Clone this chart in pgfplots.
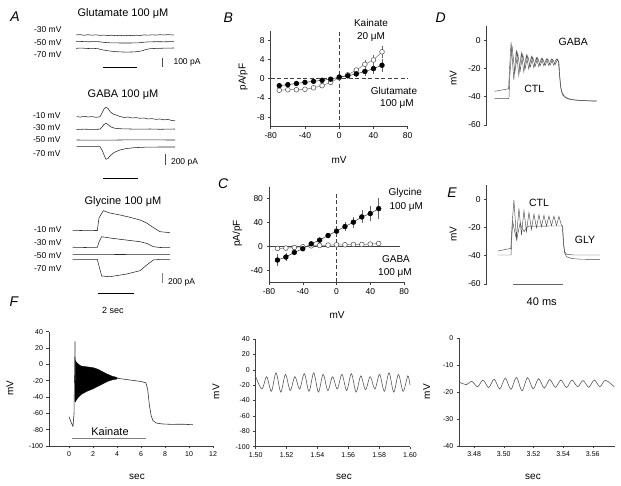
\documentclass[border=0pt]{standalone}
\usepackage{fontspec}
\setmainfont{Liberation Sans}
\usepackage{pgfplots}
\pgfplotsset{compat=1.18}
\newcommand{\fs}[1]{\fontsize{#1}{#1}\selectfont}
\pgfplotsset{
  panel/.style={scale only axis, axis lines=left, axis line style={-,black!75,line width=0.6pt},
    tick align=outside, major tick length=2.5pt, tick style={black!75,line width=0.5pt},
    tick label style={font=\fs{8.5}}, /pgf/number format/assume math mode=true, clip=false},
  trace/.style={black!85, line width=0.55pt},
  gtrace/.style={black!65, line width=0.6pt},
  dtrace/.style={black!70, line width=0.45pt},
}
\begin{document}
\begin{tikzpicture}
\path[use as bounding box] (0pt,0pt) rectangle (621pt,486pt);

% ---------------- A : current traces (pixel units) ----------------
\begin{axis}[at={(0pt,486pt)}, anchor=north west, scale only axis, width=210pt, height=310pt,
  xmin=0, xmax=210, ymin=0, ymax=310, y dir=reverse, hide axis, clip=false]
% glutamate
\addplot[trace] coordinates {(76,35)(80,34.6)(84,35.3)(88,34.7)(92,35.2)(96,34.8)(100,35.4)(104,35.1)(108,35.6)(112,35.2)(116,35.7)(120,35.3)(124,35.8)(128,35.4)(132,35.6)(136,35.2)(140,35.5)(144,34.9)(148,35.2)(152,34.8)(156,35.1)(160,34.7)(164,35)(168,34.6)(172,35)(174,34.8)};
\addplot[trace] coordinates {(76,41.7)(82,41.5)(88,41.8)(94,41.6)(100,41.8)(104,42.4)(110,42.8)(120,43)(130,43)(138,42.9)(143,42.3)(148,41.9)(156,41.7)(164,41.8)(174,41.6)};
\addplot[trace] coordinates {(76,48.3)(82,48.1)(88,48.5)(94,48.4)(98,48.7)(102,49.8)(108,50.8)(114,51.5)(120,51.9)(126,52.1)(132,52)(138,51.6)(142,50.8)(146,49.5)(150,48.7)(156,48.4)(164,48.2)(174,48)};
\addplot[black, line width=1pt] coordinates {(103.3,67.7)(137.3,67.7)};
\addplot[black!70, line width=0.6pt] coordinates {(162.7,58.3)(162.7,66.7)};
% GABA
\addplot[trace] coordinates {(76.7,116.5)(80,117.2)(84,116.3)(88,117)(92,116.6)(96,117.3)(100,116.8)(102,113)(104,109)(106,107.3)(108,108.5)(110,111.5)(113,114)(116,115)(120,116.5)(124,117.5)(128,117)(132,118)(136,117.6)(140,118.3)(144,118)(148,119)(152,118.6)(156,119.4)(160,119)(164,119.8)(168,119.5)(172,120.5)(175,120.7)};
\addplot[trace] coordinates {(76.7,129.5)(84,129.2)(92,129.4)(100,129.2)(102,127)(104,124.5)(106,123.3)(108,124.5)(111,127)(115,128.3)(122,128.8)(130,129)(140,129.2)(150,129)(160,129.3)(175,129)};
\addplot[trace] coordinates {(76.7,140)(100,140.2)(130,139.9)(175,140)};
\addplot[trace] coordinates {(76.7,146.7)(100,146.7)(102,150)(104,155)(106,159.3)(108,158.5)(110,156)(114,152.5)(120,150)(126,148.6)(134,147.7)(145,147.2)(160,147)(175,147)};
\addplot[black, line width=1pt] coordinates {(103.3,179)(138.3,179)};
\addplot[black!70, line width=0.6pt] coordinates {(165.7,154.3)(165.7,165)};
% glycine
\addplot[trace] coordinates {(72.7,230.7)(85,230.4)(97.3,230.5)(99,218)(103.3,210.7)(110,213)(120,215)(130,217.3)(140,220)(146.7,223)(152,226.7)(160,231.7)(170,232.7)};
\addplot[trace] coordinates {(72.7,247.3)(85,247.5)(97.3,247.3)(99,242)(101.7,236.7)(110,238)(120,239.3)(140,241.7)(147,243.5)(153.3,246.7)(160,247.5)(170,247.7)};
\addplot[trace] coordinates {(72.7,254.3)(120,254.5)(170,254.3)};
\addplot[trace] coordinates {(72.7,259.3)(97.3,259.3)(99,266)(101.7,276)(110,276.7)(126.7,274)(140,270.7)(146.7,265)(153.3,260)(160,259.4)(170,259.3)};
\addplot[black!50, line width=0.6pt] coordinates {(162.7,273.3)(162.7,283.3)};
\addplot[black, line width=1pt] coordinates {(98.3,294)(134,294)};
\end{axis}

\node[font=\fs{14}\itshape] at (15pt,469.3pt) {A};
\node[font=\fs{11}] at (123pt,472.7pt) {Glutamate 100 μM};
\node[font=\fs{8.5}, anchor=east] at (65pt,456pt) {-30 mV};
\node[font=\fs{8.5}, anchor=east] at (65pt,443.3pt) {-50 mV};
\node[font=\fs{8.5}, anchor=east] at (65pt,431pt) {-70 mV};
\node[font=\fs{8.5}, anchor=west] at (170pt,423.3pt) {100 pA};
\node[font=\fs{11}] at (123pt,391pt) {GABA 100 μM};
\node[font=\fs{8.5}, anchor=east] at (64pt,370pt) {-10 mV};
\node[font=\fs{8.5}, anchor=east] at (64pt,358.3pt) {-30 mV};
\node[font=\fs{8.5}, anchor=east] at (64pt,346pt) {-50 mV};
\node[font=\fs{8.5}, anchor=east] at (64pt,332pt) {-70 mV};
\node[font=\fs{8.5}, anchor=west] at (167.5pt,323.3pt) {200 pA};
\node[font=\fs{11}] at (123pt,284.3pt) {Glycine 100 μM};
\node[font=\fs{8.5}, anchor=east] at (65pt,256pt) {-10 mV};
\node[font=\fs{8.5}, anchor=east] at (65pt,243.3pt) {-30 mV};
\node[font=\fs{8.5}, anchor=east] at (65pt,230pt) {-50 mV};
\node[font=\fs{8.5}, anchor=east] at (65pt,217.7pt) {-70 mV};
\node[font=\fs{8.5}, anchor=west] at (164.5pt,203.3pt) {200 pA};
\node[font=\fs{9}] at (113pt,176pt) {2 sec};

% ---------------- B ----------------
\begin{axis}[panel, at={(270.7pt,359.3pt)}, anchor=south west, width=137pt, height=96pt,
  xmin=-80, xmax=80, ymin=-10, ymax=10, xtick={-80,-40,0,40,80}, ytick={-8,-4,0,4,8}]
\addplot[black!75, dash pattern=on 4pt off 2.5pt, line width=0.6pt] coordinates {(-80,0)(80,0)};
\addplot[black!75, dash pattern=on 4pt off 2.5pt, line width=0.6pt] coordinates {(0,-10)(0,10)};
\addplot[black!55, line width=0.5pt, mark=*, mark size=2.4pt, mark options={fill=white, draw=black!70, line width=0.5pt},
  error bars/.cd, y dir=both, y explicit, error mark=none, error bar style={black!60,line width=0.5pt}]
  coordinates {(-70,-2.4)+-(0,0.4)(-60,-2.3)+-(0,0.4)(-50,-2.3)+-(0,0.4)(-40,-2.2)+-(0,0.4)(-30,-1.9)+-(0,0.4)(-20,-1.45)+-(0,0.4)(-10,-0.76)+-(0,0.3)(0,0.2)+-(0,0.3)(10,0.8)+-(0,0.3)(20,1.8)+-(0,0.5)(30,3.0)+-(0,0.8)(40,3.9)+-(0,1.1)(50,5.6)+-(0,1.3)};
\addplot[black!80, line width=0.5pt, mark=*, mark size=2.4pt, mark options={fill=black, draw=black},
  error bars/.cd, y dir=both, y explicit, error mark=none, error bar style={black!60,line width=0.5pt}]
  coordinates {(-70,-1.45)+-(0,0.6)(-60,-1.24)+-(0,0.5)(-50,-1.0)+-(0,0.4)(-40,-0.76)+-(0,0.4)(-30,-0.55)+-(0,0.4)(-20,-0.34)+-(0,0.3)(-10,-0.1)+-(0,0.3)(0,0.35)+-(0,0.3)(10,0.6)+-(0,0.3)(20,1.0)+-(0,0.6)(30,1.5)+-(0,0.9)(40,2.1)+-(0,1.1)(50,2.8)+-(0,1.4)};
\end{axis}
\node[font=\fs{14}\itshape] at (228.3pt,468.7pt) {B};
\node[font=\fs{10}] at (371pt,462.7pt) {Kainate};
\node[font=\fs{10}] at (371pt,449.3pt) {20 μM};
\node[font=\fs{10}] at (394pt,395pt) {Glutamate};
\node[font=\fs{10}] at (397pt,381.7pt) {100 μM};
\node[font=\fs{10}] at (339pt,326pt) {mV};
\node[font=\fs{10}, rotate=90] at (243pt,409pt) {pA/pF};

% ---------------- C ----------------
\begin{axis}[panel, at={(269pt,203.7pt)}, anchor=south west, width=135pt, height=95.6pt,
  xmin=-80, xmax=80, ymin=-60, ymax=100, xtick={-80,-40,0,40,80}, ytick={-40,0,40,80}]
\addplot[black!75, line width=0.6pt] coordinates {(-80,0)(75,0)};
\addplot[black!75, dash pattern=on 4pt off 2.5pt, line width=0.6pt] coordinates {(0,-60)(0,92)};
\addplot[black!55, line width=0.5pt, mark=*, mark size=2.4pt, mark options={fill=white, draw=black!70, line width=0.5pt},
  error bars/.cd, y dir=both, y explicit, error mark=none, error bar style={black!60,line width=0.5pt}]
  coordinates {(-70,-3.3)+-(0,1)(-60,-2.8)+-(0,1)(-50,-1.7)+-(0,1)(-40,-0.5)+-(0,1)(-30,1)+-(0,1)(-20,1.7)+-(0,1)(-10,2.2)+-(0,1)(0,2.8)+-(0,1)(10,2.8)+-(0,1)(20,3.3)+-(0,1)(30,3.3)+-(0,1)(40,3.9)+-(0,1.2)(50,5)+-(0,1.5)};
\addplot[black!80, line width=0.5pt, mark=*, mark size=2.4pt, mark options={fill=black, draw=black},
  error bars/.cd, y dir=both, y explicit, error mark=none, error bar style={black!60,line width=0.5pt}]
  coordinates {(-70,-22.8)+-(0,10)(-60,-17.8)+-(0,6)(-50,-10)+-(0,4)(-40,-3.9)+-(0,4)(-30,4.4)+-(0,3)(-20,10.6)+-(0,4)(-10,18.3)+-(0,4)(0,25.6)+-(0,6)(10,33.3)+-(0,7)(20,40.6)+-(0,9)(30,49.4)+-(0,11)(40,55)+-(0,13)(50,63.3)+-(0,18)};
\end{axis}
\node[font=\fs{14}\itshape] at (223.3pt,302.7pt) {C};
\node[font=\fs{10}, anchor=west] at (385pt,293pt) {Glycine};
\node[font=\fs{10}, anchor=west] at (386pt,279pt) {100 μM};
\node[font=\fs{10}] at (396pt,227pt) {GABA};
\node[font=\fs{10}] at (395pt,213pt) {100 μM};
\node[font=\fs{10}] at (337pt,171pt) {mV};
\node[font=\fs{10}, rotate=90] at (237.3pt,252.7pt) {pA/pF};

% ---------------- D ----------------
\begin{axis}[panel, axis x line=none, at={(486.7pt,361pt)}, anchor=south west, width=112.5pt, height=99pt,
  xmin=0, xmax=90, ymin=-60, ymax=10, ytick={-60,-40,-20,0}]
\addplot[dtrace] coordinates {(6.4,-36.2)(17.5,-34.4)(18.3,-20)(19.5,-1.5)(21.7,-28)(23.7,-7)(25.7,-25)(27.7,-9)(29.7,-22.5)(31.7,-10.5)(33.7,-20.5)(35.7,-11.5)(37.7,-19.5)(39.7,-12.3)(41.7,-18.8)(43.7,-12.8)(45.7,-18.3)(47.7,-13.2)(49.7,-18)(51.7,-13.3)(53.7,-17.8)(55.7,-13.3)(57.3,-15)(58,-22)(59,-32)(60,-36.5)(62,-39.5)(65,-41.3)(70,-42.3)(78,-42.8)(88,-43)};
\addplot[dtrace] coordinates {(6.4,-41.4)(17.8,-41.4)(18.5,-25)(20.3,-4)(22.5,-23)(24.8,-9)(26.8,-21.5)(28.8,-10)(30.8,-20)(32.8,-11)(34.8,-19)(36.8,-12)(38.8,-18.5)(40.8,-12.5)(42.8,-18)(44.8,-13)(46.8,-17.8)(48.8,-13.3)(50.8,-17.5)(52.8,-13.5)(54.8,-17.3)(56.8,-13.5)(57.8,-16)(58.5,-26)(59.3,-34)(60.5,-38.5)(63,-40.8)(67,-42)(75,-42.7)(88,-43.2)};
\end{axis}
\node[font=\fs{14}\itshape] at (440.7pt,468.7pt) {D};
\node[font=\fs{10.5}] at (573.3pt,444.3pt) {GABA};
\node[font=\fs{10.5}] at (534.3pt,396.7pt) {CTL};
\node[font=\fs{10}, rotate=90] at (453.3pt,407.7pt) {mV};

% ---------------- E ----------------
\begin{axis}[panel, axis x line=none, at={(486.7pt,202pt)}, anchor=south west, width=112.5pt, height=99pt,
  xmin=0, xmax=90, ymin=-60, ymax=10, ytick={-60,-40,-20,0}]
\addplot[dtrace] coordinates {(9,-36.7)(19.3,-34.8)(20.3,-18)(21.8,-0.7)(23.8,-27.8)(25.8,-6.6)(27.8,-25.4)(29.8,-8.2)(31.8,-23)(33.8,-9.4)(35.8,-21.4)(37.8,-10.6)(39.8,-20.2)(41.8,-11)(43.8,-19.5)(45.8,-11.5)(47.8,-19)(49.8,-12)(51.8,-18.8)(53.8,-12)(55.8,-18.6)(57.8,-12.2)(59.8,-18.5)(60.8,-19)(61.5,-32)(62.5,-38.5)(64,-40.8)(68,-42)(75,-42.5)(90.6,-42.6)};
\addplot[dtrace] coordinates {(9,-39.5)(19.5,-39.5)(20,-28)(20.8,-16)(22.2,-22)(24,-29)(25.5,-22)(26.7,-17)(28.5,-21)(30,-23)(32,-20)(34,-19)(40,-19.2)(50,-19)(60.5,-19)(61.3,-30)(62.2,-37)(64,-39)(70,-39.5)(90.6,-39.5)};
\addplot[black!60, line width=1pt] coordinates {(21.3,-60.7)(61.3,-60.7)};
\end{axis}
\node[font=\fs{14}\itshape] at (452pt,293pt) {E};
\node[font=\fs{10.5}] at (539pt,283pt) {CTL};
\node[font=\fs{10.5}] at (585pt,246pt) {GLY};
\node[font=\fs{10}, rotate=90] at (453.3pt,252pt) {mV};
\node[font=\fs{11}] at (541.7pt,184.3pt) {40 ms};

% ---------------- F ----------------
\begin{axis}[panel, at={(49pt,40pt)}, anchor=south west, width=164pt, height=114.3pt,
  xmin=-1.667, xmax=12, ymin=-100, ymax=40, xtick={0,2,4,6,8,10,12}, ytick={-100,-80,-60,-40,-20,0,20,40},
  tick label style={font=\fs{7}}]
\addplot[fill=black, draw=black, line width=0.3pt] coordinates {(0.52,5)(0.6,3)(0.8,0)(1.0,-2)(1.5,-3)(2.0,-4)(2.4,-6)(2.8,-9)(3.2,-12)(3.6,-14.5)(4.0,-16)(4.0,-18)(3.6,-19)(3.2,-21)(2.8,-24)(2.4,-27)(2.0,-30)(1.5,-33)(1.0,-37)(0.8,-40)(0.6,-44)(0.52,-46)(0.52,5)};
\addplot[black!80, line width=0.6pt] coordinates {(0,-64)(0.15,-70)(0.33,-76)(0.42,-60)(0.5,28)(0.54,-20)};
\addplot[black!80, line width=0.6pt] coordinates {(4.0,-17)(5,-19)(6,-21)(6.4,-22.5)(6.55,-30)(6.7,-50)(6.85,-63)(7.0,-69)(7.3,-72)(7.8,-73)(8.5,-73.5)(9.5,-73.3)(10.33,-74)};
\addplot[black!50, line width=1.2pt] coordinates {(0.25,-90.6)(6.45,-90.6)};
\end{axis}
\node[font=\fs{14}\itshape] at (14pt,184.3pt) {F};
\node[font=\fs{10}, rotate=90] at (10pt,98pt) {mV};
\node[font=\fs{10}] at (137pt,9.3pt) {sec};
\node[font=\fs{11}] at (110pt,54.3pt) {Kainate};

\begin{axis}[panel, at={(255.7pt,39.3pt)}, anchor=south west, width=154.3pt, height=107.7pt,
  xmin=1.5, xmax=1.6, ymin=-100, ymax=40, xtick={1.5,1.52,1.54,1.56,1.58,1.6}, ytick={-100,-80,-60,-40,-20,0,20,40},
  scaled x ticks=false, xticklabel style={/pgf/number format/.cd, fixed, fixed zerofill, precision=2},
  tick label style={font=\fs{7}}]
\addplot[gtrace, smooth] coordinates {(1.5,-9)(1.50405,-25)(1.5071,-9)(1.51015,-28)(1.5132,-4)(1.51625,-29)(1.5193,-6)(1.52235,-27)(1.5254,-9)(1.52845,-25)(1.5315,-5)(1.53455,-28)(1.5376,-4)(1.54065,-29)(1.5437,-6)(1.54675,-27)(1.5498,-9)(1.55285,-25)(1.5559,-6)(1.55895,-27)(1.5620,-5)(1.56505,-29)(1.5681,-8)(1.57115,-26)(1.5742,-9)(1.57725,-25)(1.5803,-6)(1.58335,-28)(1.5864,-4)(1.58945,-29)(1.5925,-6)(1.59555,-28)(1.5986,-8)(1.6,-20)};
\end{axis}
\node[font=\fs{10}, rotate=90] at (216pt,94.3pt) {mV};
\node[font=\fs{10}] at (344pt,9.3pt) {sec};

\begin{axis}[panel, at={(459.3pt,40pt)}, anchor=south west, width=155.7pt, height=107.7pt,
  xmin=3.47, xmax=3.575, ymin=-40, ymax=0, xtick={3.48,3.50,3.52,3.54,3.56}, ytick={-40,-30,-20,-10,0},
  scaled x ticks=false, xticklabel style={/pgf/number format/.cd, fixed, fixed zerofill, precision=2},
  tick label style={font=\fs{7}}]
\addplot[gtrace, smooth] coordinates {(3.47,-16.3)(3.4748,-17.2)(3.4785,-16)(3.4823,-18)(3.486,-15.5)(3.4898,-18.3)(3.4935,-15.2)(3.4973,-18.8)(3.501,-14.8)(3.5048,-19)(3.5085,-14.5)(3.5123,-19.5)(3.516,-14.6)(3.5198,-18.8)(3.5235,-15)(3.5273,-18.5)(3.531,-15.3)(3.5348,-18.2)(3.5385,-15.5)(3.5423,-18.3)(3.546,-15.5)(3.5498,-18)(3.5535,-15.7)(3.5573,-18.2)(3.561,-15.5)(3.5648,-18)(3.5685,-15.6)(3.5745,-18)};
\end{axis}
\node[font=\fs{10}, rotate=90] at (426.7pt,94.3pt) {mV};
\node[font=\fs{10}] at (533pt,9.3pt) {sec};
\end{tikzpicture}
\end{document}
